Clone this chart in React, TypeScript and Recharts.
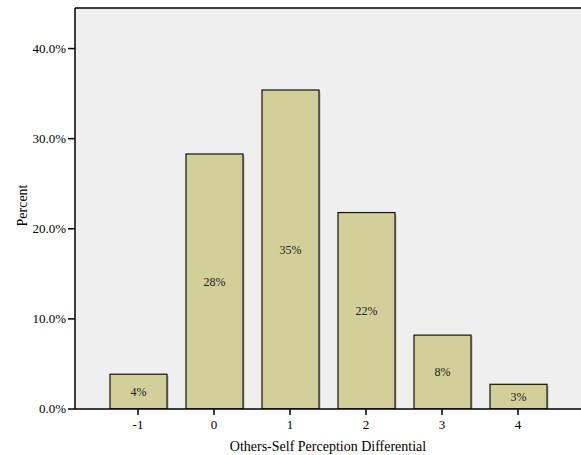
import React from "react";
import {
  BarChart,
  Bar,
  XAxis,
  YAxis,
  CartesianGrid,
  ReferenceLine,
  LabelList,
} from "recharts";

// differential categories and percent of respondents
const categories = ["-1", "0", "1", "2", "3", "4"];
const percents = [3.86, 28.3, 35.4, 21.8, 8.2, 2.74];
const yTicks = [0, 10, 20, 30, 40];

const rows = categories.map((cat, i) => ({ cat, pct: percents[i] }));

const serif = "'Liberation Serif', 'Times New Roman', serif";

// bar with the faint drop shadow SPSS puts on the right/bottom edge
const ShadowBar = (props) => {
  const { x, y, width, height } = props;
  if (!height) return null;
  return (
    <g>
      <rect x={x + 1.5} y={y + 1.5} width={width} height={height - 1.5} fill="#8a8a8a" opacity={0.6} />
      <rect x={x} y={y} width={width} height={height} fill="#d3cf98" stroke="#111" strokeWidth={1.2} />
    </g>
  );
};

// plain tick text so size/font are exactly what we ask for
const AxisTick = (props) => {
  const { x, y, payload, anchor, fmt, dy } = props;
  return (
    <text
      x={x}
      y={y}
      dy={dy}
      textAnchor={anchor}
      fill="#000"
      fontSize={13}
      fontFamily={serif}>
      {fmt ? fmt(payload.value) : payload.value}
    </text>
  );
};

const App = () => {
  return (
    <div style={{ position: "absolute", left: 0, top: 0, fontFamily: serif }}>
      <BarChart
        width={581}
        height={455}
        data={rows}
        style={{ fontFamily: serif }}
        margin={{ top: 8, right: 0, left: 0, bottom: 0 }}>
        <CartesianGrid
          fill="#efefef"
          horizontal={false}
          vertical={false}
          stroke="none"
        />
        <XAxis
          dataKey="cat"
          height={46}
          padding={{ left: 25, right: 25 }}
          axisLine={{ stroke: "#000", strokeWidth: 1.5 }}
          tickLine={{ stroke: "#000", strokeWidth: 1.5 }}
          tickSize={6}
          tick={<AxisTick anchor="middle" dy={12} />}
          label={{
            value: "Others-Self Perception Differential",
            position: "insideBottom",
            offset: 4,
            fill: "#000",
            fontSize: 14,
            fontFamily: serif,
          }}
        />
        <YAxis
          width={75}
          domain={[0, 44.5]}
          ticks={yTicks}
          allowDataOverflow
          axisLine={{ stroke: "#000", strokeWidth: 1.5 }}
          tickLine={{ stroke: "#000", strokeWidth: 1.5 }}
          tickSize={7}
          tick={
            <AxisTick
              anchor="end"
              dy={4}
              fmt={(v) => `${Number(v).toFixed(1)}%`}
            />
          }
          label={{
            value: "Percent",
            angle: -90,
            position: "center",
            dx: -15,
            dy: -3,
            fill: "#000",
            fontSize: 14,
            fontFamily: serif,
          }}
        />
        <ReferenceLine y={44.5} stroke="#000" strokeWidth={1.5} />
        <Bar
          dataKey="pct"
          barSize={57}
          fill="#d3cf98"
          shape={ShadowBar}
          isAnimationActive={false}>
          <LabelList
            dataKey="pct"
            position="center"
            fill="#222"
            fontSize={12}
            fontFamily={serif}
            formatter={(v) => `${Math.round(Number(v))}%`}
          />
        </Bar>
      </BarChart>
    </div>
  );
};

export default App;
